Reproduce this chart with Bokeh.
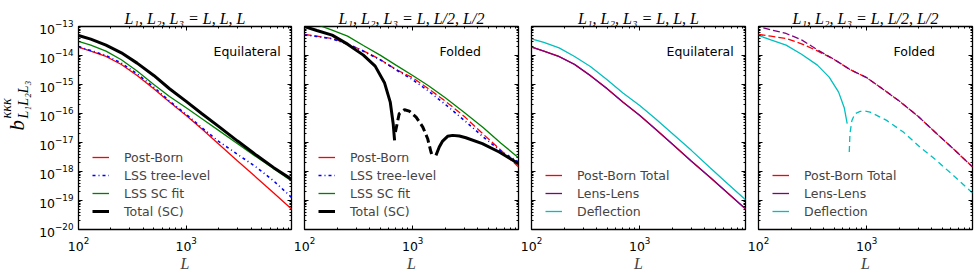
import math
from bokeh.plotting import figure
from bokeh.models import (Range1d, FixedTicker, LogTickFormatter, LogAxis, Label,
                          Legend, LegendItem, CustomJSTickFormatter)
from bokeh.layouts import row
from bokeh.embed import file_html
from bokeh.resources import INLINE

# ---------------- data ----------------
L = [100, 130, 180, 250, 350, 500, 700, 1000, 1400, 2000, 3000, 4500, 6500, 9500]

# Equilateral configuration
eq_postborn = [1.94e-14, 1.41e-14, 9.26e-15, 4.91e-15, 2.05e-15, 7.13e-16, 2.48e-16,
               8.61e-17, 2.91e-17, 8.85e-18, 2.30e-18, 6.13e-19, 1.82e-19, 5.11e-20]
eq_tree = [2.00e-14, 1.49e-14, 1.00e-14, 5.46e-15, 2.34e-15, 8.13e-16, 2.68e-16,
           9.31e-17, 3.24e-17, 1.09e-17, 3.90e-18, 1.39e-18, 4.71e-19, 1.29e-19]
eq_scfit = [3.04e-14, 2.28e-14, 1.41e-14, 7.11e-15, 2.90e-15, 1.00e-15, 3.88e-16,
            1.58e-16, 6.61e-17, 2.62e-17, 9.09e-18, 3.16e-18, 1.25e-18, 4.71e-19]
eq_total = [4.90e-14, 3.66e-14, 2.28e-14, 1.24e-14, 5.46e-15, 2.05e-15, 7.13e-16,
            2.61e-16, 9.82e-17, 3.60e-17, 1.12e-17, 3.61e-18, 1.36e-18, 5.37e-19]
eq_lenslens = [1.97e-14, 1.42e-14, 9.10e-15, 4.95e-15, 2.02e-15, 7.20e-16, 2.45e-16,
               8.70e-17, 2.88e-17, 8.95e-18, 2.27e-18, 6.20e-19, 1.80e-19, 5.15e-20]
eq_deflection = [3.76e-14, 2.81e-14, 1.84e-14, 9.26e-15, 4.19e-15, 1.46e-15, 5.06e-16,
                 1.90e-16, 6.61e-17, 2.06e-17, 5.36e-18, 1.32e-18, 3.81e-19, 1.07e-19]

# Folded configuration (absolute values; negative parts drawn dashed)
fo_postborn = [5.30e-14, 4.65e-14, 3.86e-14, 2.53e-14, 1.45e-14, 7.30e-15, 3.30e-15,
               1.71e-15, 7.13e-16, 2.68e-16, 7.94e-17, 1.91e-17, 5.50e-18, 1.43e-18]
fo_tree = [5.16e-14, 4.53e-14, 3.76e-14, 2.46e-14, 1.41e-14, 7.11e-15, 3.22e-15,
           1.46e-15, 5.93e-16, 2.06e-16, 5.78e-17, 1.54e-17, 5.08e-18, 2.12e-18]
fo_scfit = [1.65e-13, 1.17e-13, 7.48e-14, 4.65e-14, 2.22e-14, 1.03e-14, 4.66e-15,
            2.05e-15, 9.04e-16, 3.49e-16, 1.09e-16, 3.24e-17, 9.59e-18, 2.99e-18]
fo_total_pos1_L = [100, 130, 180, 250, 350, 450, 550, 620, 660, 680]
fo_total_pos1 = [1.00e-13, 7.28e-14, 5.03e-14, 2.46e-14, 1.03e-14, 4.30e-15, 1.12e-15,
                 2.48e-16, 4.44e-17, 1.18e-17]
fo_total_neg_L = [692, 750, 840, 930, 1075, 1240, 1375, 1475, 1530]
fo_total_neg = [2.29e-17, 9.82e-17, 1.35e-16, 1.21e-16, 7.54e-17, 3.41e-17, 1.35e-17,
                4.70e-18, 3.16e-18]
fo_total_pos2_L = [1640, 1760, 1890, 2100, 2340, 2700, 3100, 4400, 6300, 9500]
fo_total_pos2 = [3.61e-18, 6.98e-18, 1.12e-17, 1.63e-17, 1.76e-17, 1.67e-17, 1.46e-17,
                 9.09e-18, 4.70e-18, 1.86e-18]
fo_lenslens = [1.00e-13, 7.68e-14, 5.74e-14, 3.47e-14, 1.57e-14, 7.35e-15, 3.28e-15,
               1.73e-15, 7.05e-16, 2.70e-16, 7.85e-17, 1.93e-17, 5.45e-18, 1.45e-18]
fo_defl_pos_L = [100, 130, 180, 250, 350, 450, 550, 620, 660]
fo_defl_pos = [4.90e-14, 3.47e-14, 2.28e-14, 1.11e-14, 4.66e-15, 1.80e-15, 5.47e-16,
               1.58e-16, 4.44e-17]
fo_defl_neg_L = [690, 700, 730, 780, 870, 970, 1075, 1530, 2180, 3100, 4400, 6300, 9500]
fo_defl_neg = [4.70e-18, 2.01e-17, 5.78e-17, 9.82e-17, 1.18e-16, 1.21e-16, 1.12e-16,
               5.78e-17, 2.29e-17, 6.98e-18, 2.43e-18, 7.38e-19, 1.82e-19]

titles = ["L\u2081, L\u2082, L\u2083 = L, L, L", "L\u2081, L\u2082, L\u2083 = L, L/2, L/2",
          "L\u2081, L\u2082, L\u2083 = L, L, L", "L\u2081, L\u2082, L\u2083 = L, L/2, L/2"]
shapes = ["Equilateral", "Folded", "Equilateral", "Folded"]

x_major = [100, 1000]
x_minor = [m * 10 ** e for e in (2, 3) for m in range(2, 10)]
y_major = [10.0 ** e for e in range(-20, -12)]
y_minor = [m * 10.0 ** e for e in range(-20, -13) for m in range(2, 10)]

# ---------------- layout ----------------
W0 = 36                       # strip holding the y-axis label
FW = [257, 227, 227, 233]
MBL = [41, 11, 11, 11]
MBR = [2, 2, 2, 8]
H = 280
MBT, MBB = 26, 51
FRAME_H = H - MBT - MBB

SANS = "DejaVu Sans"
SERIF = "Liberation Serif"
FS = "12.5px"

RED, BLUE, GREEN, BLACK, PURPLE, CYAN = "#ff0000", "#0000ff", "#008000", "#000000", "#800080", "#00bfbf"


def make_fig(i):
    p = figure(width=FW[i], height=H, x_axis_type="log", y_axis_type="log",
               x_range=Range1d(100, 9500), y_range=Range1d(1e-20, 1e-13),
               output_backend="svg", toolbar_location=None,
               min_border_left=MBL[i], min_border_right=MBR[i],
               min_border_top=MBT, min_border_bottom=MBB)
    p.xgrid.visible = False
    p.ygrid.visible = False
    p.outline_line_color = "black"
    p.outline_line_width = 1.3
    p.background_fill_color = "white"
    p.border_fill_color = "white"
    p.add_layout(LogAxis(), "above")
    p.add_layout(LogAxis(), "right")
    for ax in p.xaxis:
        ax.ticker = FixedTicker(ticks=x_major, minor_ticks=x_minor)
    for ax in p.yaxis:
        ax.ticker = FixedTicker(ticks=y_major, minor_ticks=y_minor)
    for ax in list(p.xaxis) + list(p.yaxis):
        ax.formatter = CustomJSTickFormatter(code="return ''")
        ax.axis_line_color = None
        ax.major_tick_in = 4
        ax.major_tick_out = 0
        ax.minor_tick_in = 2
        ax.minor_tick_out = 0
        ax.major_tick_line_color = "black"
        ax.minor_tick_line_color = "black"
        ax.major_label_text_font = SANS
        ax.major_label_text_font_size = "4px"
        ax.major_label_standoff = 0
        ax.major_label_text_color = "black"
    b = p.below[0]
    b.formatter = LogTickFormatter()
    b.major_label_text_font_size = FS
    b.major_label_standoff = 7
    b.axis_label = "L"
    b.axis_label_text_font = SERIF
    b.axis_label_text_font_style = "italic"
    b.axis_label_text_font_size = "16px"
    b.axis_label_standoff = 1
    if i == 0:
        lft = p.left[0]
        lft.formatter = LogTickFormatter()
        lft.major_label_text_font_size = FS
        lft.major_label_standoff = 5
    p.title.text = titles[i]
    p.title.align = "center"
    p.title.text_font = SERIF
    p.title.text_font_style = "italic"
    p.title.text_font_size = "16px"
    p.title.text_color = "black"
    p.title.standoff = 0
    p.add_layout(Label(x=135, y=FRAME_H - 25, x_units="screen", y_units="screen",
                       text=shapes[i], text_align="left", text_baseline="middle",
                       text_font=SANS, text_font_size=FS, text_color="black"))
    return p


def add_legend(p, entries):
    items = []
    for lab, col, w, dash in entries:
        r = p.line(x=[1.0], y=[1.0], line_color=col, line_width=w, line_dash=dash)
        items.append(LegendItem(label=lab, renderers=[r]))
    leg = Legend(items=items, location=(14, 9), padding=0, margin=0, spacing=0,
                 label_height=18, glyph_height=18, glyph_width=17, label_standoff=15,
                 label_text_font=SANS, label_text_font_size=FS,
                 background_fill_alpha=0, border_line_color=None)
    p.add_layout(leg)


figs = [make_fig(i) for i in range(4)]

# Panel 1: equilateral, components
p = figs[0]
p.line(L, eq_postborn, line_color=RED, line_width=1.3)
p.line(L, eq_tree, line_color=BLUE, line_width=1.6, line_dash="3 3 1 3")
p.line(L, eq_scfit, line_color=GREEN, line_width=1.3)
p.line(L, eq_total, line_color=BLACK, line_width=3)
add_legend(p, [("Post-Born", RED, 1.3, "solid"), ("LSS tree-level", BLUE, 1.6, "3 3 1 3"),
               ("LSS SC fit", GREEN, 1.3, "solid"), ("Total (SC)", BLACK, 3, "solid")])

# Panel 2: folded, components
p = figs[1]
p.line(L, fo_postborn, line_color=RED, line_width=1.3, line_dash="7 3")
p.line(L, fo_tree, line_color=BLUE, line_width=1.6, line_dash="3 3 1 3")
p.line(L, fo_scfit, line_color=GREEN, line_width=1.3)
p.line(fo_total_pos1_L, fo_total_pos1, line_color=BLACK, line_width=3)
p.line(fo_total_neg_L, fo_total_neg, line_color=BLACK, line_width=3, line_dash="8 4")
p.line(fo_total_pos2_L, fo_total_pos2, line_color=BLACK, line_width=3)
add_legend(p, [("Post-Born", RED, 1.3, "solid"), ("LSS tree-level", BLUE, 1.6, "3 3 1 3"),
               ("LSS SC fit", GREEN, 1.3, "solid"), ("Total (SC)", BLACK, 3, "solid")])

# Panel 3: equilateral, post-Born terms
p = figs[2]
p.line(L, eq_postborn, line_color=RED, line_width=1.3)
p.line(L, eq_lenslens, line_color=PURPLE, line_width=1.3)
p.line(L, eq_deflection, line_color=CYAN, line_width=1.3)
add_legend(p, [("Post-Born Total", RED, 1.3, "solid"), ("Lens-Lens", PURPLE, 1.3, "solid"),
               ("Deflection", CYAN, 1.3, "solid")])

# Panel 4: folded, post-Born terms
p = figs[3]
p.line(L, fo_postborn, line_color=RED, line_width=1.3, line_dash="7 3")
p.line(L, fo_lenslens, line_color=PURPLE, line_width=1.3, line_dash="7 3", line_dash_offset=5)
p.line(fo_defl_pos_L, fo_defl_pos, line_color=CYAN, line_width=1.3)
p.line(fo_defl_neg_L, fo_defl_neg, line_color=CYAN, line_width=1.3, line_dash="6 4")
add_legend(p, [("Post-Born Total", RED, 1.3, "solid"), ("Lens-Lens", PURPLE, 1.3, "solid"),
               ("Deflection", CYAN, 1.3, "solid")])

# y-axis label b^{kkk}_{L1L2L3}: rotated text pieces in a narrow strip left of panel 1
ylab = figure(width=W0, height=H, x_range=Range1d(0, W0), y_range=Range1d(0, H),
              x_axis_location=None, y_axis_location=None, output_backend="svg",
              toolbar_location=None, title=None,
              min_border_left=0, min_border_right=0, min_border_top=0, min_border_bottom=0,
              outline_line_color=None)
ylab.xgrid.visible = False
ylab.ygrid.visible = False
ylab.border_fill_color = "white"
half_pi = math.pi / 2
ylab.add_layout(Label(x=16, y=99, x_units="screen", y_units="screen", text="b", angle=half_pi,
                      text_align="left", text_baseline="alphabetic", text_font=SERIF,
                      text_font_style="italic", text_font_size="21px", text_color="black"))
ylab.add_layout(Label(x=6, y=111, x_units="screen", y_units="screen", text="\u03ba\u03ba\u03ba",
                      angle=half_pi, text_align="left", text_baseline="alphabetic",
                      text_font=SERIF, text_font_style="italic", text_font_size="14px",
                      text_color="black"))
ylab.add_layout(Label(x=23, y=111, x_units="screen", y_units="screen",
                      text="L\u2081L\u2082L\u2083", angle=half_pi, text_align="left",
                      text_baseline="alphabetic", text_font=SERIF, text_font_style="italic",
                      text_font_size="14px", text_color="black"))

layout = row(ylab, *figs)
open("out.html", "w").write(file_html(layout, INLINE))
